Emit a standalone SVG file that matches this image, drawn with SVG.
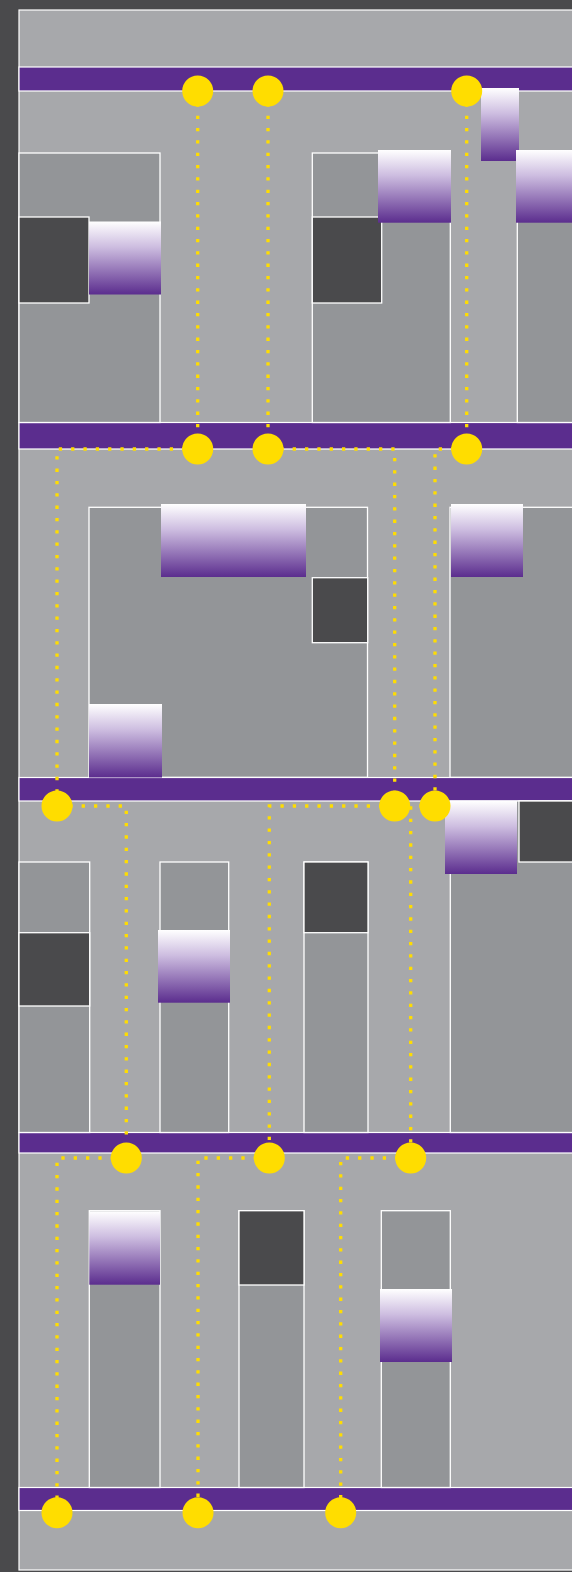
<svg xmlns="http://www.w3.org/2000/svg" width="572" height="1572" viewBox="0 0 572 1572">
<style>
.panel{fill:#a7a8ab;stroke:#fff;stroke-width:1.2}
.band{fill:#5b2d8e;stroke:#fff;stroke-width:1.2}
.box{fill:#939598;stroke:#fff;stroke-width:1.3}
.dark{fill:#4a4a4c;stroke:#fff;stroke-width:1.3}
.grad{fill:url(#pg)}
.conn{fill:none;stroke:#ffdd00;stroke-width:3.3;stroke-dasharray:3.3 9.03}
.node{fill:#ffdd00}
</style>
<defs>
<linearGradient id="pg" x1="0" y1="0" x2="0" y2="1">
<stop offset="0" stop-color="#ffffff"/>
<stop offset="0.35" stop-color="#cdbde0"/>
<stop offset="1" stop-color="#5b2d8e"/>
</linearGradient>
</defs>
<rect x="0" y="0" width="572" height="1572" fill="#4a4a4c"/>
<rect class="panel" x="19" y="10" width="560" height="1560"/>
<g id="bands">
<rect class="band" x="19" y="67" width="560" height="24"/>
<rect class="band" x="19" y="422.5" width="560" height="26.5"/>
<rect class="band" x="19" y="777.5" width="560" height="23.5"/>
<rect class="band" x="19" y="1132.5" width="560" height="20.5"/>
<rect class="band" x="19" y="1487.5" width="560" height="23"/>
</g>
<g id="section1">
<rect class="box" x="19" y="153" width="141" height="269.5"/>
<rect class="dark" x="19" y="217" width="70" height="86"/>
<rect class="grad" x="89" y="221.5" width="72" height="73"/>
<rect class="box" x="312.3" y="153" width="138" height="269.5"/>
<rect class="dark" x="312.3" y="217" width="69.4" height="86"/>
<rect class="grad" x="378" y="150" width="73" height="72.7"/>
<rect class="grad" x="481" y="88" width="38" height="73"/>
<rect class="box" x="517.3" y="153" width="62" height="269.5"/>
<rect class="grad" x="516" y="150" width="60" height="72.7"/>
</g>
<g id="section2">
<rect class="box" x="89" y="507.3" width="278.5" height="270"/>
<rect class="grad" x="161" y="504" width="145" height="73"/>
<rect class="dark" x="312.3" y="577.7" width="55.4" height="65"/>
<rect class="grad" x="89" y="704" width="73" height="73.5"/>
<rect class="box" x="450" y="507.3" width="130" height="270"/>
<rect class="grad" x="451" y="504" width="72" height="73"/>
</g>
<g id="section3">
<rect class="box" x="19" y="862" width="70.7" height="270.5"/>
<rect class="dark" x="19" y="932.7" width="70.7" height="73.3"/>
<rect class="box" x="160" y="862" width="68.7" height="270.5"/>
<rect class="grad" x="158" y="930" width="72" height="72.7"/>
<rect class="box" x="304" y="862" width="64" height="270.5"/>
<rect class="dark" x="304" y="862" width="64" height="70.7"/>
<rect class="box" x="450.3" y="801" width="130" height="331.5"/>
<rect class="dark" x="519" y="801" width="60" height="61"/>
<rect class="grad" x="445" y="801" width="72" height="73"/>
</g>
<g id="section4">
<rect class="box" x="89.3" y="1210.7" width="70.7" height="276.8"/>
<rect class="grad" x="89.3" y="1211.3" width="70.7" height="73.4"/>
<rect class="box" x="239" y="1210.7" width="65" height="276.8"/>
<rect class="dark" x="239" y="1210.7" width="65" height="74.3"/>
<rect class="box" x="381.3" y="1210.7" width="69" height="276.8"/>
<rect class="grad" x="380" y="1289" width="72" height="73"/>
</g>
<g id="connectors">
<path class="conn" d="M197.7 91V449"/>
<path class="conn" d="M268 91V449"/>
<path class="conn" d="M466.7 91V449"/>
<path class="conn" d="M197.7 449H57V806"/>
<path class="conn" d="M268 449H394.7V806"/>
<path class="conn" d="M466.7 449H435V806"/>
<path class="conn" d="M57 806H126.3V1158"/>
<path class="conn" d="M394.7 806H269.3V1158"/>
<path class="conn" d="M435 806H410.7V1158"/>
<path class="conn" d="M126.3 1158H57V1512.7"/>
<path class="conn" d="M269.3 1158H198V1512.7"/>
<path class="conn" d="M410.7 1158H340.7V1512.7"/>
</g>
<g id="nodes">
<circle id="n1a" class="node" cx="197.7" cy="91" r="15.5"/>
<circle id="n1b" class="node" cx="268" cy="91" r="15.5"/>
<circle id="n1c" class="node" cx="466.7" cy="91" r="15.5"/>
<circle id="n2a" class="node" cx="197.7" cy="449" r="15.5"/>
<circle id="n2b" class="node" cx="268" cy="449" r="15.5"/>
<circle id="n2c" class="node" cx="466.7" cy="449" r="15.5"/>
<circle id="n3a" class="node" cx="57" cy="806" r="15.5"/>
<circle id="n3b" class="node" cx="394.7" cy="806" r="15.5"/>
<circle id="n3c" class="node" cx="435" cy="806" r="15.5"/>
<circle id="n4a" class="node" cx="126.3" cy="1158" r="15.5"/>
<circle id="n4b" class="node" cx="269.3" cy="1158" r="15.5"/>
<circle id="n4c" class="node" cx="410.7" cy="1158" r="15.5"/>
<circle id="n5a" class="node" cx="57" cy="1512.7" r="15.5"/>
<circle id="n5b" class="node" cx="198" cy="1512.7" r="15.5"/>
<circle id="n5c" class="node" cx="340.7" cy="1512.7" r="15.5"/>
</g>
</svg>
